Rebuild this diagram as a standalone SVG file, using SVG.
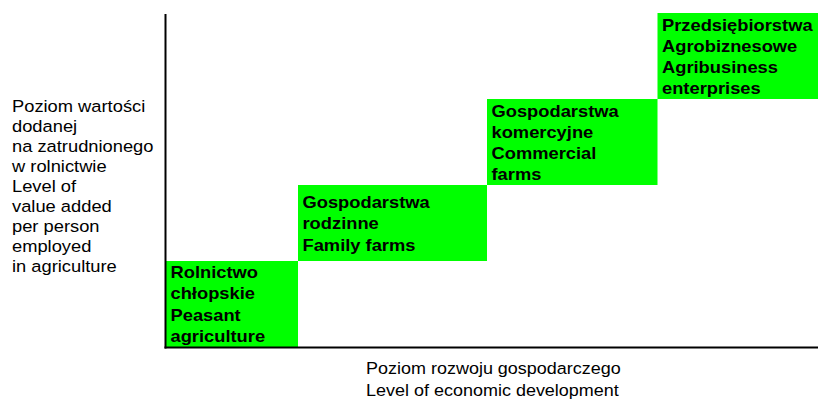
<svg xmlns="http://www.w3.org/2000/svg" width="818" height="405" viewBox="0 0 818 405">
<style>
.box{fill:#00ff00;stroke:none}
.lbl{font-family:"Liberation Sans",Arial,sans-serif;font-size:16.5px;font-weight:bold;fill:#000}
.ax{font-family:"Liberation Sans",Arial,sans-serif;font-size:16.5px;fill:#000}
.axis{stroke:#000;stroke-width:2;fill:none}
</style>
<rect width="818" height="405" fill="#fff"/>
<g id="node-peasant">
<rect class="box" x="166" y="261" width="132" height="86"/>
<text class="lbl" transform="translate(170.5,278) scale(1.11,1)"><tspan x="0" y="0">Rolnictwo</tspan><tspan x="0" y="21.5">chłopskie</tspan><tspan x="0" y="43">Peasant</tspan><tspan x="0" y="64.5">agriculture</tspan></text>
</g>
<g id="node-family">
<rect class="box" x="298" y="185" width="189" height="76"/>
<text class="lbl" transform="translate(302.5,208) scale(1.11,1)"><tspan x="0" y="0">Gospodarstwa</tspan><tspan x="0" y="21.5">rodzinne</tspan><tspan x="0" y="43">Family farms</tspan></text>
</g>
<g id="node-commercial">
<rect class="box" x="487" y="99" width="170.5" height="86"/>
<text class="lbl" transform="translate(491.5,116.5) scale(1.11,1)"><tspan x="0" y="0">Gospodarstwa</tspan><tspan x="0" y="21.3">komercyjne</tspan><tspan x="0" y="42.6">Commercial</tspan><tspan x="0" y="63.9">farms</tspan></text>
</g>
<g id="node-agribusiness">
<rect class="box" x="657.5" y="13" width="160.5" height="86"/>
<text class="lbl" transform="translate(662,30.7) scale(1.11,1)"><tspan x="0" y="0">Przedsiębiorstwa</tspan><tspan x="0" y="21.2">Agrobiznesowe</tspan><tspan x="0" y="42.4">Agribusiness</tspan><tspan x="0" y="63.6">enterprises</tspan></text>
</g>
<g id="connectors">
<line class="axis" x1="165.5" y1="14" x2="165.5" y2="348.5"/>
<line class="axis" x1="164.5" y1="347.5" x2="818" y2="347.5"/>
</g>
<g id="label-y">
<text class="ax" transform="translate(12,111.7) scale(1.11,1)"><tspan x="0" y="0">Poziom wartości</tspan><tspan x="0" y="20.1">dodanej</tspan><tspan x="0" y="40.2">na zatrudnionego</tspan><tspan x="0" y="60.3">w rolnictwie</tspan><tspan x="0" y="80.4">Level of</tspan><tspan x="0" y="100.5">value added</tspan><tspan x="0" y="120.6">per person</tspan><tspan x="0" y="140.7">employed</tspan><tspan x="0" y="160.8">in agriculture</tspan></text>
</g>
<g id="label-x">
<text class="ax" transform="translate(366,374) scale(1.09,1)"><tspan x="0" y="0">Poziom rozwoju gospodarczego</tspan><tspan x="0" y="21.7">Level of economic development</tspan></text>
</g>
</svg>
